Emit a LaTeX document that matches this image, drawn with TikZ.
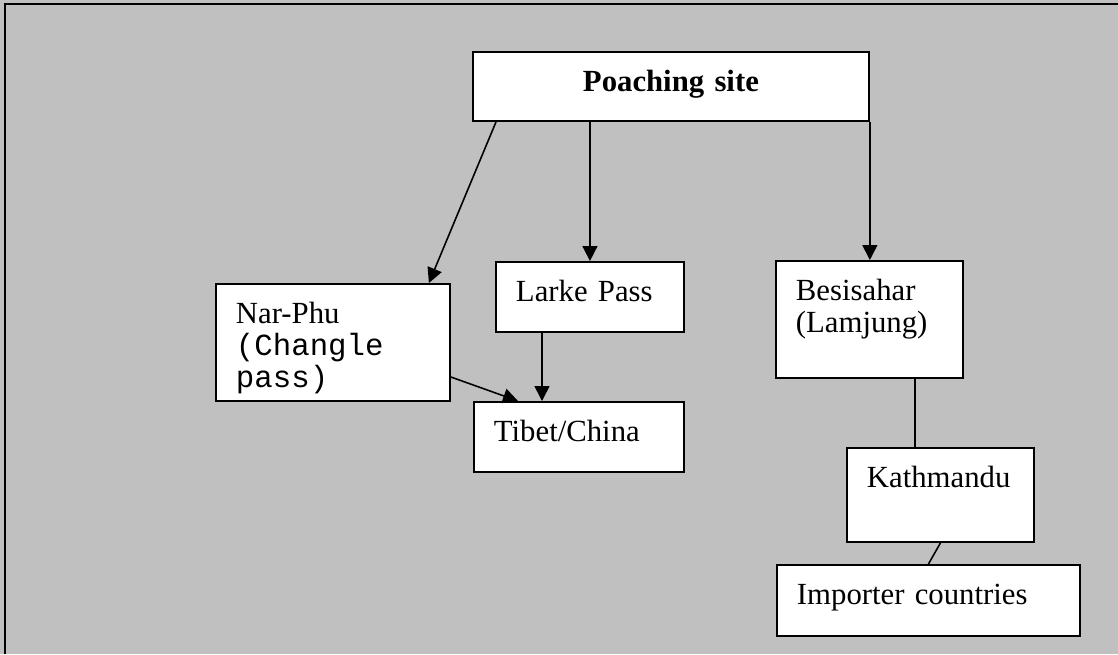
\documentclass[tikz,border=0pt]{standalone}
\usepackage{fontspec}
\setmainfont{Liberation Serif}
\setmonofont{Liberation Mono}
\usetikzlibrary{arrows.meta}
\usetikzlibrary{calc}
\usepackage{xcolor}
\definecolor{panelgray}{HTML}{C0C0C0}

\begin{document}
\begin{tikzpicture}[x=0.02cm, y=-0.02cm,
    place/.style={draw, fill=white, line width=1.1pt, anchor=north west,
      inner xsep=0.4cm, inner ysep=0pt, align=left, text height=0.8cm,
      font=\fontsize{17.5}{18.2}\selectfont},
    route/.style={line width=0.9pt, -{Triangle[length=0.3cm, width=0.3cm]}},
    link/.style={line width=0.9pt}]

      % Panel
      \useasboundingbox (0,0) rectangle (1118,654);
      \fill[panelgray] (0,0) rectangle (1118,654);
      \draw[line width=0.04cm] (5,654) -- (5,4) -- (1118,4);

      % Boxes
      \node[place, align=center, text width=7.12cm, text depth=0.58cm] (poach) at (472,51) {\textbf{Poaching site}};
      \node[place, text width=3.88cm, text depth=1.54cm] (narphu) at (215,283) {Nar-Phu\\\texttt{(Changle}\\\texttt{pass)}};
      \node[place, text width=2.96cm, text depth=0.60cm] (larke) at (495,261) {Larke Pass};
      \node[place, text width=3.40cm, text depth=0.60cm] (tibet) at (473,401) {Tibet/China};
      \node[place, text width=2.94cm, text depth=1.54cm] (besi) at (775,260) {Besisahar\\(Lamjung)};
      \node[place, text width=2.94cm, text depth=1.08cm] (kath) at (846,447) {Kathmandu};
      \node[place, text width=5.26cm, text depth=0.62cm] (import) at (776,564) {Importer countries};

      % Routes out of the poaching site
      \draw[route] ($(poach.south west)+(24,0)$) -- ($(narphu.north east)+(-22,0)$);
      \draw[route] (poach.south -| larke.north) -- (larke.north);
      \draw[route] (poach.south east) -- (poach.south east |- besi.north);

      % Routes into Tibet
      \draw[route] ($(larke.south west)+(47,0)$) coordinate (lt) -- (lt |- tibet.north);
      \draw[route] ($(narphu.north east)+(0,94)$) -- ($(tibet.north west)+(45,0)$);

      % Route through Kathmandu
      \draw[link] ($(besi.south west)+(140,0)$) coordinate (bk) -- (bk |- kath.north);
      \draw[link] (kath.south) -- (import.north);
  \end{tikzpicture}
\end{document}
